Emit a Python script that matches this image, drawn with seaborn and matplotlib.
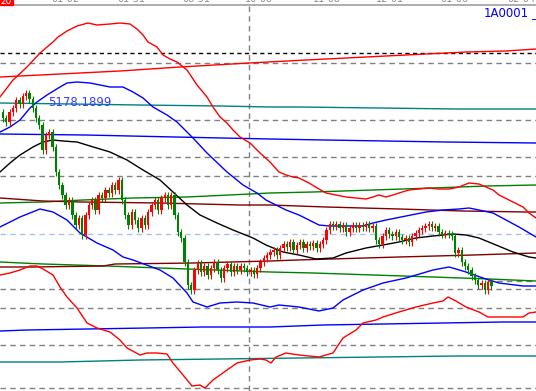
import matplotlib
matplotlib.use("Agg")
import matplotlib.pyplot as plt
import seaborn as sns

# ---------------------------------------------------------------
# values (x = bar position, y = screen row,
# so the y axis is inverted below)
# ---------------------------------------------------------------
red_upper = [(0, 97), (13, 80), (27, 67), (40, 53), (53, 42), (58, 37), (67, 31), (77, 26),
             (88, 23), (97, 25), (110, 24), (120, 23), (130, 24), (137, 29), (143, 35), (148, 42),
             (157, 47), (163, 55), (170, 59), (177, 62), (187, 70), (197, 85), (207, 97), (213, 107),
             (220, 117), (227, 123), (233, 130), (240, 137), (250, 143), (260, 153), (270, 162),
             (279, 172), (286, 175), (293, 177), (299, 178), (309, 183), (319, 189), (326, 193),
             (336, 195), (346, 197), (356, 198), (366, 199), (373, 197), (379, 195), (386, 197),
             (393, 195), (399, 193), (409, 190), (419, 189), (429, 188), (439, 189), (449, 189),
             (459, 187), (469, 183), (479, 184), (486, 187), (493, 190), (499, 195), (513, 202),
             (523, 207), (529, 213), (536, 218)]
blue_upper = [(0, 132), (10, 127), (20, 120), (30, 108), (37, 102), (47, 95), (60, 87), (67, 83),
              (77, 82), (90, 83), (110, 87), (123, 87), (133, 92), (143, 98), (153, 107), (167, 115),
              (177, 122), (187, 132), (193, 138), (207, 153), (227, 172), (243, 185), (257, 193),
              (266, 200), (276, 205), (286, 210), (299, 215), (309, 220), (319, 225), (329, 226),
              (343, 226), (363, 226), (373, 223), (386, 220), (406, 216), (426, 212), (443, 210),
              (459, 209), (469, 208), (479, 210), (493, 213), (506, 220), (519, 227), (536, 237)]
blue_lower = [(0, 227), (20, 217), (40, 209), (53, 212), (67, 220), (80, 233), (97, 243),
              (113, 250), (123, 257), (133, 260), (160, 270), (173, 278), (187, 293), (193, 302),
              (207, 307), (220, 303), (237, 302), (253, 303), (270, 307), (279, 305), (299, 307),
              (319, 311), (333, 308), (343, 300), (363, 290), (383, 283), (406, 278), (433, 270),
              (449, 267), (456, 269), (466, 272), (483, 278), (499, 283), (523, 286), (536, 286)]
red_lower = [(0, 275), (10, 273), (20, 270), (30, 266), (37, 266), (43, 269), (53, 275), (60, 287),
             (67, 297), (77, 308), (87, 323), (97, 328), (110, 332), (120, 340), (127, 348),
             (140, 355), (147, 353), (157, 353), (167, 354), (173, 363), (183, 375), (192, 386),
             (200, 385), (205, 388), (213, 380), (227, 370), (237, 363), (250, 360), (260, 359),
             (266, 360), (271, 363), (276, 357), (286, 353), (299, 355), (319, 357), (333, 353),
             (343, 338), (356, 330), (363, 323), (376, 320), (383, 317), (399, 312), (416, 307),
             (433, 303), (443, 301), (448, 297), (456, 301), (466, 307), (479, 312), (488, 317),
             (499, 317), (523, 317), (529, 313), (536, 312)]
black_mid = [(0, 172), (10, 163), (20, 155), (33, 147), (43, 142), (53, 140), (63, 141), (77, 142),
             (90, 146), (110, 152), (127, 160), (143, 170), (160, 180), (173, 192), (187, 205),
             (200, 215), (217, 223), (233, 230), (253, 238), (266, 245), (283, 252), (299, 255),
             (316, 259), (333, 258), (346, 253), (366, 248), (383, 245), (399, 242), (416, 238),
             (433, 236), (453, 234), (466, 235), (479, 238), (496, 245), (513, 252), (529, 257),
             (536, 258)]
maroon_upper = [(0, 198), (43, 201), (82, 202), (160, 203), (240, 205), (270, 205), (326, 207),
                (399, 209), (463, 211), (526, 212), (536, 212)]
maroon_lower = [(0, 267), (33, 267), (103, 266), (115, 264), (193, 263), (270, 261), (297, 260),
                (399, 257), (473, 255), (536, 253)]
green_upper = [(0, 203), (43, 202), (83, 200), (133, 198), (187, 197), (250, 194), (270, 193),
               (313, 192), (373, 190), (433, 188), (486, 186), (536, 185)]
green_lower = [(0, 262), (43, 264), (107, 266), (160, 268), (270, 272), (313, 273), (373, 275),
               (433, 277), (489, 279), (536, 281)]
teal_upper = [(0, 103), (140, 105), (220, 106), (270, 107), (299, 107), (379, 108), (456, 109), (536, 109)]
teal_lower = [(0, 362), (60, 362), (140, 360), (220, 359), (299, 358), (379, 357), (456, 356), (536, 356)]
blue_flat_upper = [(0, 134), (85, 135), (175, 137), (270, 139), (325, 140), (385, 141), (445, 142), (536, 143)]
blue_flat_lower = [(0, 331), (27, 330), (87, 329), (147, 328), (203, 327), (270, 327), (323, 325),
                   (383, 324), (443, 323), (503, 322), (536, 322)]
red_trend = [(0, 77), (60, 74), (120, 71), (180, 67), (249, 63), (306, 60), (366, 57), (406, 55),
             (446, 53), (466, 52), (506, 51), (536, 49)]

# closing rows of the daily candles (149 bars)
closes = [118, 122, 112, 108, 100, 104, 96, 93, 99, 108, 118, 125,
          150, 135, 132, 147, 172, 185, 195, 205, 200, 215, 225, 218, 235,
          215, 205, 200, 210, 195, 198, 190, 193, 185, 190, 180,
          200, 215, 225, 212, 220, 228, 218, 225, 212,
          205, 200, 210, 198, 195, 205, 195,
          215, 232, 238, 262, 285, 290, 270, 263,
          272, 266, 275, 268, 262, 270, 278, 268, 264, 272, 266, 270, 266, 268, 272, 270, 274, 268,
          262, 258, 255, 252, 250, 255, 248, 244, 247, 242, 250, 245, 242, 248, 244, 246, 243, 248,
          244, 240, 230, 224, 226, 224, 228, 225, 232, 228, 225, 228, 225, 227, 224, 228, 226,
          240, 244, 236, 230, 234, 236, 232, 237, 240, 238, 242, 236, 233, 230, 228, 226, 224,
          227, 226, 232, 234, 233, 234, 236, 253, 250, 262, 266, 270, 276, 280, 285, 283, 290,
          282, 286]
first_open = 112

grey_dashes = [63, 120, 157, 176, 289, 308, 345, 388]
black_dash = 53
price_line = 233.7
date_labels = ["01-02", "01-31", "08-31", "10-08", "11-08", "12-01", "01-06", "02-04"]
date_pos = [65, 131, 196, 259, 327, 390, 454, 521]
cursor_x = 249

# ---------------------------------------------------------------
sns.set_style("white")
plt.rcParams["font.family"] = ["DejaVu Sans"]

fig = plt.figure(figsize=(5.36, 3.91), dpi=100)
ax = fig.add_axes([0, 0, 1, 1])
ax.set_xlim(0, 536)
ax.set_ylim(391, 0)
ax.axis("off")

# horizontal dashed grid
for yy in grey_dashes:
    ax.axhline(yy, color="#808080", lw=1, ls=(0, (4, 3)), zorder=1)
ax.axhline(black_dash, color="black", lw=1, ls=(0, (3, 2.5)), zorder=1)
ax.axhline(price_line, color="#a8c4e4", lw=1, ls=(0, (4, 3)), zorder=1)
ax.plot([487, 536], [281, 281], color="#808080", lw=1, ls=(0, (4, 3)), zorder=1)
ax.plot([cursor_x, cursor_x], [6, 391], color="#808080", lw=1, ls=(0, (4, 3)), zorder=1)

lines = [
    (red_trend, "#ff0000"), (teal_upper, "#008080"), (teal_lower, "#008080"),
    (blue_flat_upper, "#0000ff"), (blue_flat_lower, "#0000ff"),
    (green_upper, "#008000"), (green_lower, "#008000"),
    (maroon_upper, "#800000"), (maroon_lower, "#800000"),
    (red_upper, "#ff0000"), (red_lower, "#ff0000"),
    (blue_upper, "#0000ff"), (blue_lower, "#0000ff"),
    (black_mid, "#000000"),
]
for pts, col in lines:
    xs = [p[0] for p in pts]
    ys = [p[1] for p in pts]
    sns.lineplot(x=xs, y=ys, color=col, lw=1, ax=ax, sort=False, estimator=None, zorder=2)

# candlesticks
opens = [first_open] + closes[:-1]
xpos = [3 + i * 3.3 for i in range(len(closes))]
for x, o, c in zip(xpos, opens, closes):
    col = "#ff0000" if c < o else "#008000"
    top, bot = min(o, c), max(o, c)
    ax.vlines(x, top - 3.5, bot + 3.5, color=col, lw=0.8, zorder=3)
    ax.bar(x, max(bot - top, 1.5), bottom=top, width=2.4, color=col, lw=0, zorder=3)

# header strip
ax.axhline(5.3, color="#a0a0a0", lw=1.2, zorder=4)
for lab, xp in zip(date_labels, date_pos):
    ax.text(xp, -1.0, lab, color="#909090", fontsize=7, ha="center", va="center", zorder=4)
ax.add_patch(plt.Rectangle((0, 0), 13, 4.5, color="#ff0000", zorder=5))
ax.text(6.5, 1, "20", color="white", fontsize=6.5, ha="center", va="center", zorder=6)

ax.text(484, 13.5, "1A0001", color="#0000ff", fontsize=8.5, ha="left", va="center", zorder=6)
ax.text(531, 13.5, "_", color="#0000ff", fontsize=8.5, ha="left", va="center", zorder=6)
ax.text(48, 102, "5178.1899", color="#3a3aff", fontsize=8.5, ha="left", va="center", zorder=6)

fig.savefig("out.png", dpi=100, facecolor="white")
